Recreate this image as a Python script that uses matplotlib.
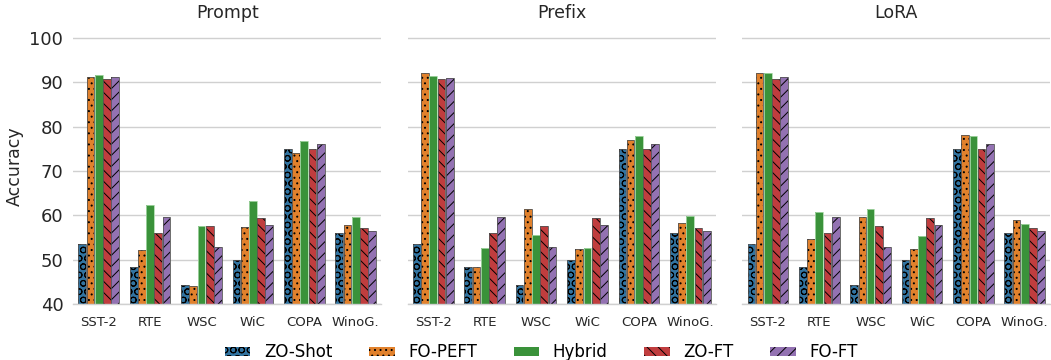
import matplotlib
matplotlib.use("Agg")
import matplotlib.pyplot as plt
import numpy as np

tasks = ["SST-2", "RTE", "WSC", "WiC", "COPA", "WinoG."]
methods = ["ZO-Shot", "FO-PEFT", "Hybrid", "ZO-FT", "FO-FT"]
panels = ["Prompt", "Prefix", "LoRA"]

# values per panel, per method (in task order)
prompt_zo_shot = [53.6, 48.3, 44.2, 50.0, 75.0, 56.0]
prompt_fo_peft = [91.3, 52.2, 44.1, 57.4, 74.0, 57.7]
prompt_hybrid = [91.6, 62.3, 57.5, 63.1, 76.8, 59.7]
prompt_zo_ft = [90.7, 55.9, 57.6, 59.3, 74.9, 57.1]
prompt_fo_ft = [91.1, 59.5, 52.8, 57.7, 76.0, 56.4]

prefix_zo_shot = [53.6, 48.3, 44.2, 50.0, 75.0, 56.0]
prefix_fo_peft = [92.1, 48.3, 61.5, 52.4, 77.0, 58.2]
prefix_hybrid = [91.5, 52.5, 55.6, 52.5, 77.9, 59.8]
prefix_zo_ft = [90.7, 55.9, 57.6, 59.3, 74.9, 57.1]
prefix_fo_ft = [91.0, 59.5, 52.8, 57.7, 76.0, 56.4]

lora_zo_shot = [53.6, 48.3, 44.2, 50.0, 75.0, 56.0]
lora_fo_peft = [92.1, 54.7, 59.5, 52.4, 78.0, 58.9]
lora_hybrid = [92.1, 60.8, 61.3, 55.3, 77.8, 58.1]
lora_zo_ft = [90.7, 55.9, 57.6, 59.3, 74.9, 57.1]
lora_fo_ft = [91.1, 59.5, 52.8, 57.7, 76.0, 56.4]

data = {
    "Prompt": [prompt_zo_shot, prompt_fo_peft, prompt_hybrid, prompt_zo_ft, prompt_fo_ft],
    "Prefix": [prefix_zo_shot, prefix_fo_peft, prefix_hybrid, prefix_zo_ft, prefix_fo_ft],
    "LoRA": [lora_zo_shot, lora_fo_peft, lora_hybrid, lora_zo_ft, lora_fo_ft],
}

colors = ["#3274a1", "#e1812c", "#3a923a", "#c03d3e", "#9372b2"]
hatches = ["OO", "...", "", "\\\\\\", "///"]

plt.rcParams["font.family"] = ["DejaVu Sans"]
plt.rcParams["hatch.linewidth"] = 0.7

fig, axes = plt.subplots(1, 3, figsize=(10.51, 3.6), dpi=100, sharey=True)
fig.subplots_adjust(left=0.0695, right=0.9995, bottom=0.156, top=0.919, wspace=0.085)

x = np.arange(len(tasks))
step = 0.16
bw = 0.15
handles = []
for ax, panel in zip(axes, panels):
    ax.set_axisbelow(True)
    ax.yaxis.grid(True, color="#d0d0d0", linewidth=1.0)
    for i, (m, vals) in enumerate(zip(methods, data[panel])):
        pos = x + (i - 2) * step
        b = ax.bar(pos, np.array(vals) - 40, bottom=40, width=bw, color=colors[i],
                   hatch=hatches[i], edgecolor="black" if hatches[i] else colors[i],
                   linewidth=0, label=m)
        ax.bar(pos, np.array(vals) - 40, bottom=40, width=bw, fill=False,
               edgecolor="#555555" if hatches[i] else "#a8d8a8", linewidth=0.6)
        if panel == "Prompt":
            handles.append(b)
    ax.set_ylim(40, 102)
    ax.set_xlim(-0.5, 5.5)
    ax.set_yticks([40, 50, 60, 70, 80, 90, 100])
    ax.set_xticks(x)
    ax.set_xticklabels(tasks, fontsize=9.5, color="#262626")
    ax.tick_params(axis="x", length=0, pad=9)
    ax.tick_params(axis="y", length=0, pad=7, labelsize=13, labelcolor="#262626")
    for s in ["left", "right", "top"]:
        ax.spines[s].set_visible(False)
    ax.spines["bottom"].set_color("#d0d0d0")
    ax.spines["bottom"].set_linewidth(1.0)
    ax.set_title(panel, fontsize=12.5, color="#262626", pad=8)

axes[0].set_ylabel("Accuracy", fontsize=12.5, color="#262626")

fig.legend(handles, methods, loc="lower center", ncol=5, frameon=False,
           fontsize=12, bbox_to_anchor=(0.515, -0.045), handlelength=1.55,
           handleheight=0.5, columnspacing=2.2, handletextpad=0.8)

fig.savefig("out.png", dpi=100)
